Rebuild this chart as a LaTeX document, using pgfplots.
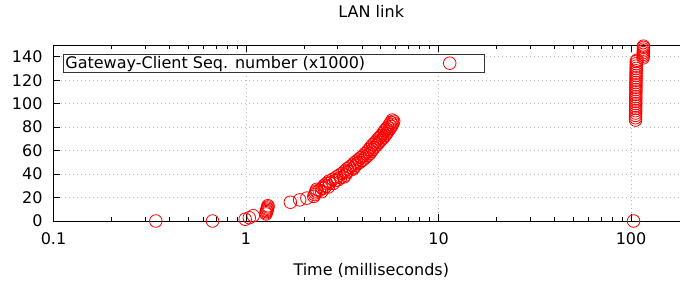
\documentclass[border=0pt]{standalone}
\usepackage{fontspec}
\setmainfont{DejaVu Sans}
\usepackage{pgfplots}
\pgfplotsset{compat=1.18}
\usetikzlibrary{calc}
\begin{document}
\fontsize{16bp}{19bp}\selectfont
\begin{tikzpicture}
\begin{axis}[
  scale only axis,
  width=635.5bp, height=176bp,
  xmode=log,
  xmin=0.1, xmax=200,
  ymin=0, ymax=150,
  xtick={0.1,1,10,100},
  xticklabels={0.1,1,10,100},
  ytick={0,20,40,60,80,100,120,140},
  /pgf/number format/assume math mode=true,
  tick align=inside,
  major tick length=7bp,
  minor tick length=4bp,
  tick style={black, line width=0.8bp},
  axis line style={black, line width=1bp},
  grid=major,
  grid style={gray!55, line width=0.6bp, dash pattern=on 1bp off 3bp},
  clip=false,
  yticklabel style={xshift=-5.5bp},
  xticklabel style={yshift=-6.5bp},
  title={LAN link},
  title style={at={(axis description cs:0.5,1)}, anchor=base, yshift=21.7bp},
  xlabel={Time (milliseconds)},
  xlabel style={at={(axis description cs:0.5,0)}, anchor=base, yshift=-54.5bp},
  legend plot pos=right,
  legend cell align=left,
  legend style={at={(axis description cs:0,1)}, anchor=north west, xshift=10bp, yshift=-9bp,
    draw=black!80, line width=0.8bp, inner sep=0pt, row sep=0pt,
    nodes={inner sep=1.5bp}},
  legend image code/.code={\path[draw=none] (0bp,0bp) -- (68bp,0bp); \draw[#1, only marks] plot coordinates {(33bp,0bp)};},
]
\addplot[only marks, mark=o, mark size=6.3bp, mark options={draw=red, line width=0.8bp}] coordinates {
(0.34,0) (0.67,0) (103,0)
(0.99,1.5) (1.04,2.8) (1.09,4.5)
(1.27,6) (1.27,7) (1.28,8) (1.28,9) (1.29,10) (1.29,11) (1.30,12) (1.30,13)
(1.70,16) (1.90,18) (2.07,19.5)
(2.25,21) (2.27,22.5) (2.29,24) (2.31,25.5) (2.33,27)
(2.47,25) (2.55,28) (2.60,29.5) (2.68,29) (2.72,32.5) (2.84,32) (2.92,34.5)
(3.00,35) (3.10,37) (3.22,37.5) (3.28,39) (3.32,41) (3.38,42.5)
(3.50,43.5) (3.60,44.5) (3.66,46) (3.72,47.5) (3.78,49) (3.90,50)
(4.00,51.5) (4.10,53) (4.20,54.5) (4.30,56) (4.40,57.5) (4.48,59.5)
(4.55,61) (4.62,62.5) (4.72,64) (4.82,65.5) (4.90,67) (5.00,68.5)
(5.10,70) (5.20,71.5) (5.28,73) (5.36,74.5) (5.44,76) (5.52,77.5)
(5.60,79) (5.68,80.5) (5.75,82) (5.80,83.5) (5.85,85)
(2.40,26) (2.48,28) (2.55,30.5) (2.62,32) (2.70,34) (2.82,35.5) (2.95,37.5)
(3.05,39) (3.15,40.5) (3.25,42.5) (3.35,44.5) (3.45,46) (3.55,47.5)
(3.65,49.5) (3.75,51) (3.85,52.5) (3.95,54) (4.05,55.5) (4.15,57.5)
(4.25,59) (4.35,61) (4.45,63) (4.55,65) (4.65,66.5) (4.75,68) (4.85,70)
(4.95,71.5) (5.05,73) (5.15,75) (5.25,77) (5.35,78.5) (5.45,80) (5.55,82)
(5.65,84) (5.75,86)
(105.5,86) (105.5,88) (105.5,90) (105.6,92) (105.6,94) (105.6,96)
(105.7,98) (105.7,100) (105.7,102) (105.8,104) (105.8,106) (105.8,108)
(105.9,110) (105.9,112) (106.0,114) (106.0,116) (106.0,118) (106.1,120)
(106.1,122) (106.2,124) (106.2,126) (106.3,128) (106.3,130) (106.4,132)
(106.4,134) (106.5,136) (107.5,137)
(115.5,139) (115.6,140.5) (115.7,142) (115.8,143.5) (115.9,145) (116,146.5) (116,148) (116,149)
};
\addlegendentry{Gateway-Client Seq. number (x1000)\hspace*{50bp}}
\end{axis}
\pgfresetboundingbox
\path ($(current axis.south west)+(-53.5bp,-63bp)$) rectangle ($(current axis.north west)+(626.5bp,45bp)$);
\end{tikzpicture}
\end{document}
